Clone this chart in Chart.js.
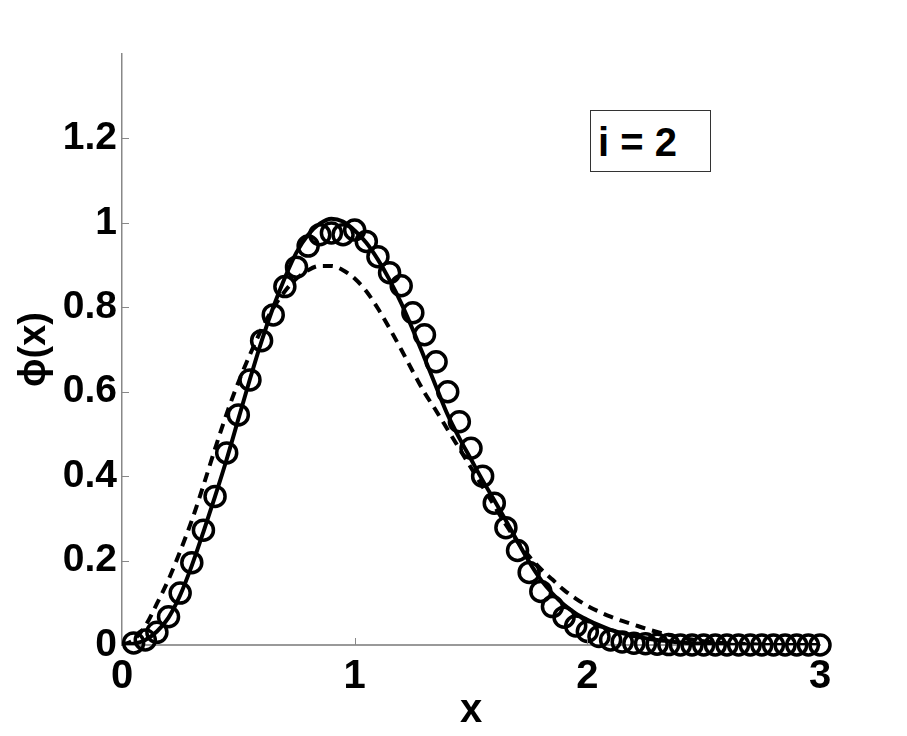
<!DOCTYPE html>
<html>
<head>
<meta charset="utf-8">
<script src="https://cdn.jsdelivr.net/npm/chart.js@4.4.1/dist/chart.umd.min.js"></script>
<style>
  html, body { margin: 0; padding: 0; background: #ffffff; }
  #wrap { position: relative; width: 907px; height: 736px; }
  #legendBox {
    position: absolute; left: 590px; top: 110px; width: 119px; height: 60px;
    border: 1px solid #333; background: #fff; box-sizing: content-box;
    font-family: "Liberation Sans", Arial, Helvetica, sans-serif; font-weight: bold;
    font-size: 40px; line-height: 60px; padding-left: 0; color: #000;
  }
  #legendBox span { position: absolute; left: 7px; top: 1px; white-space: pre; }
</style>
</head>
<body>
<div id="wrap">
  <canvas id="c" width="907" height="736"></canvas>
  <div id="legendBox"><span>i = 2</span></div>
</div>
<script>
// ---- data ----
const xValues = [0,0.05,0.1,0.15,0.2,0.25,0.3,0.35,0.4,0.45,0.5,0.55,0.6,0.65,0.7,0.75,0.8,0.85,0.9,0.95,
  1,1.05,1.1,1.15,1.2,1.25,1.3,1.35,1.4,1.45,1.5,1.55,1.6,1.65,1.7,1.75,1.8,1.85,1.9,1.95,
  2,2.05,2.1,2.15,2.2,2.25,2.3,2.35,2.4,2.45,2.5,2.55,2.6,2.65,2.7,2.75,2.8,2.85,2.9,2.95,3];

const solidValues = [0,0.003,0.012,0.032,0.065,0.118,0.188,0.268,0.352,0.44,0.535,0.63,0.72,0.80,0.87,0.93,0.972,0.998,1.01,1.003,
  0.982,0.953,0.913,0.865,0.81,0.747,0.68,0.612,0.545,0.49,0.44,0.39,0.343,0.295,0.245,0.197,0.155,0.122,0.095,0.075,
  0.06,0.047,0.036,0.028,0.021,0.016,0.012,0.009,0.006,0.004,0.003,0.002,0.001,0,0,0,0,0,0,0,0];

const dashedValues = [0,0.012,0.045,0.098,0.155,0.222,0.295,0.378,0.465,0.548,0.622,0.688,0.748,0.798,0.838,0.868,0.888,0.898,0.898,0.888,
  0.868,0.838,0.797,0.75,0.70,0.648,0.598,0.555,0.51,0.465,0.42,0.375,0.33,0.285,0.245,0.21,0.18,0.155,0.13,0.11,
  0.093,0.079,0.067,0.057,0.048,0.039,0.031,0.024,0.018,0.013,0.009,0.006,0.004,0.003,0.002,0.001,0,0,0,0,0];

const circleValues = [null,0.005,0.012,0.03,0.067,0.123,0.195,0.272,0.352,0.455,0.545,0.628,0.721,0.782,0.849,0.895,0.945,0.972,0.976,0.972,
  0.983,0.956,0.92,0.882,0.851,0.787,0.735,0.671,0.60,0.529,0.466,0.40,0.336,0.278,0.224,0.172,0.127,0.091,0.066,0.045,
  0.032,0.02,0.012,0.007,0.004,0.003,0.002,0.001,0,0,0,0,0,0,0,0,0,0,0,0,0];

const xTickLabels = ['0','1','2','3'];
const yTickLabels = ['0','0.2','0.4','0.6','0.8','1','1.2',''];

const xTitle = 'x';
const yTitle = '\u03D5(x)';

// ---- build point tables ----
function pts(ys) {
  const out = [];
  for (let i = 0; i < xValues.length; i++) {
    if (ys[i] !== null) out.push({x: xValues[i], y: ys[i]});
  }
  return out;
}

const FONT = '"Liberation Sans", Arial, Helvetica, "DejaVu Sans", sans-serif';

const innerTicks = {
  id: 'innerTicks',
  afterDraw(chart) {
    const ctx = chart.ctx;
    const xs = chart.scales.x, ys = chart.scales.y;
    const a = chart.chartArea;
    ctx.save();
    ctx.strokeStyle = '#888';
    ctx.lineWidth = 1;
    ctx.beginPath();
    ys.ticks.forEach(t => {
      if (t.value <= 0 || t.value >= 1.39) return;
      const p = Math.round(ys.getPixelForValue(t.value)) + 0.5;
      ctx.moveTo(a.left, p); ctx.lineTo(a.left + 7, p);
    });
    xs.ticks.forEach(t => {
      if (t.value <= 0 || t.value >= 3) return;
      const p = Math.round(xs.getPixelForValue(t.value)) + 0.5;
      ctx.moveTo(p, a.bottom); ctx.lineTo(p, a.bottom - 7);
    });
    ctx.stroke();
    ctx.restore();
  }
};

new Chart(document.getElementById('c'), {
  type: 'scatter',
  data: {
    datasets: [
      {
        label: 'circles',
        data: pts(circleValues),
        showLine: false,
        pointStyle: 'circle',
        pointRadius: 10,
        pointBorderWidth: 3.5,
        pointBackgroundColor: 'rgba(0,0,0,0)',
        pointBorderColor: '#000',
        clip: false
      },
      {
        label: 'solid',
        data: pts(solidValues),
        showLine: true,
        borderColor: '#000',
        borderWidth: 4,
        pointRadius: 0,
        cubicInterpolationMode: 'monotone',
        fill: false
      },
      {
        label: 'dashed',
        data: pts(dashedValues),
        showLine: true,
        borderColor: '#000',
        borderWidth: 4,
        borderDash: [10, 7],
        pointRadius: 0,
        cubicInterpolationMode: 'monotone',
        fill: false
      }
    ]
  },
  options: {
    responsive: false,
    animation: false,
    devicePixelRatio: 1,
    layout: { padding: { left: 0, right: 87, top: 54, bottom: 0 } },
    plugins: { legend: { display: false }, tooltip: { enabled: false } },
    scales: {
      x: {
        type: 'linear', min: 0, max: 3,
        afterFit(s) { s.height = 91; },
        grid: { display: false, drawTicks: false },
        border: { display: true, color: '#999', width: 2 },
        ticks: {
          stepSize: 1, padding: 8, color: '#000', maxRotation: 0, autoSkip: false,
          font: { family: FONT, weight: 'bold', size: 40 },
          callback: (v, i) => xTickLabels[i]
        },
        title: {
          display: true, text: xTitle, color: '#000',
          font: { family: FONT, weight: 'bold', size: 40 },
          padding: { top: 0, bottom: 1 }
        }
      },
      y: {
        type: 'linear', min: 0, max: 1.4,
        afterFit(s) { s.width = 122; },
        grid: { display: false, drawTicks: false },
        border: { display: true, color: '#888', width: 1.5 },
        ticks: {
          stepSize: 0.2, padding: 5, color: '#000', autoSkip: false,
          font: { family: FONT, weight: 'bold', size: 39 },
          callback: (v, i) => yTickLabels[i]
        },
        title: {
          display: true, text: yTitle, color: '#000',
          font: { family: FONT, weight: 'bold', size: 38 },
          padding: { top: 12, bottom: 0 }
        }
      }
    }
  },
  plugins: [innerTicks]
});
</script>
</body>
</html>
